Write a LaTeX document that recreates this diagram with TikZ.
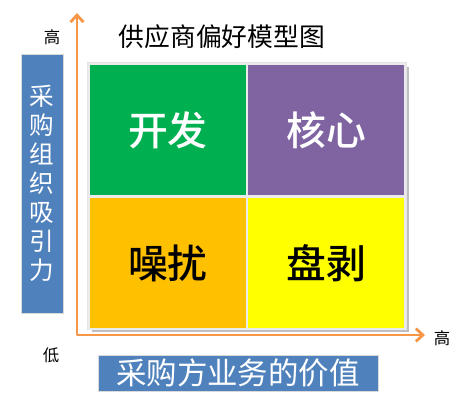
\documentclass[tikz,border=0pt]{standalone}
\usepackage{fontspec}
\setmainfont{Noto Sans CJK SC}
\newfontfamily\midcjk{Noto Sans CJK SC}[UprightFont=* Medium]
\usetikzlibrary{arrows.meta,positioning,shadows}
\definecolor{qgreen}{RGB}{0,176,80}
\definecolor{qpurple}{RGB}{128,100,162}
\definecolor{qorange}{RGB}{255,192,0}
\definecolor{qyellow}{RGB}{255,255,0}
\definecolor{qblue}{RGB}{79,129,189}
\definecolor{qaxis}{RGB}{247,150,70}

\begin{document}
\begin{tikzpicture}[
  x=0.03cm, y=-0.03cm,
  quad/.style={draw=white!92!black,line width=1.2pt,minimum width=4.74cm,
    minimum height=3.96cm,inner sep=0pt,font=\midcjk\fontsize{34}{34}\selectfont},
  bluebox/.style={fill=qblue,draw=white!85!black,line width=0.6pt,text=white,
    inner sep=0pt,drop shadow={opacity=0.35,shadow xshift=1.2pt,shadow yshift=-1.2pt}},
  lvl/.style={font=\fontsize{14}{14}\selectfont},
]
  \useasboundingbox (0,0) rectangle (465,417);
  % grid background and shadow
  \fill[black!25] (92,67) rectangle (409,332);
  \fill[white!90!black] (87,62) rectangle (407,330);
  % quadrants
  \node[quad,fill=qgreen,text=white] (dev) at (168,130) {开发};
  \node[quad,fill=qpurple,text=white] (core) at (326,130) {核心};
  \node[quad,fill=qorange] (noise) at (168,263) {噪扰};
  \node[quad,fill=qyellow] (exploit) at (326,263) {盘剥};
  % axes
  \coordinate (top) at (77,13);
  \coordinate (origin) at (77,335);
  \coordinate (right) at (425,335);
  \draw[qaxis,line width=2.4pt,line join=round,
    {Straight Barb[length=6pt,width=11pt,line width=2.4pt]}-{Straight Barb[length=6pt,width=11pt,line width=2.4pt]}]
    (top) -- (origin) -- (right);
  % title and levels
  \node[font=\fontsize{22}{22}\selectfont] (title) at (222,37) {供应商偏好模型图};
  \node[lvl] (yhigh) at (52,37) {高};
  \node[lvl] (xhigh) at (442,338) {高};
  \node[lvl] (low) at (51,355) {低};
  % axis labels
  \node[bluebox,minimum width=1.26cm,minimum height=7.77cm,align=center,
    font=\fontsize{21}{24.7}\selectfont] (ylabel) at (42,183.5)
    {采\\购\\组\\织\\吸\\引\\力};
  \node[bluebox,minimum width=8.4cm,minimum height=1.08cm,
    font=\fontsize{26}{26}\selectfont] (xlabel) at (238,373) {采购方业务的价值};
\end{tikzpicture}
\end{document}
